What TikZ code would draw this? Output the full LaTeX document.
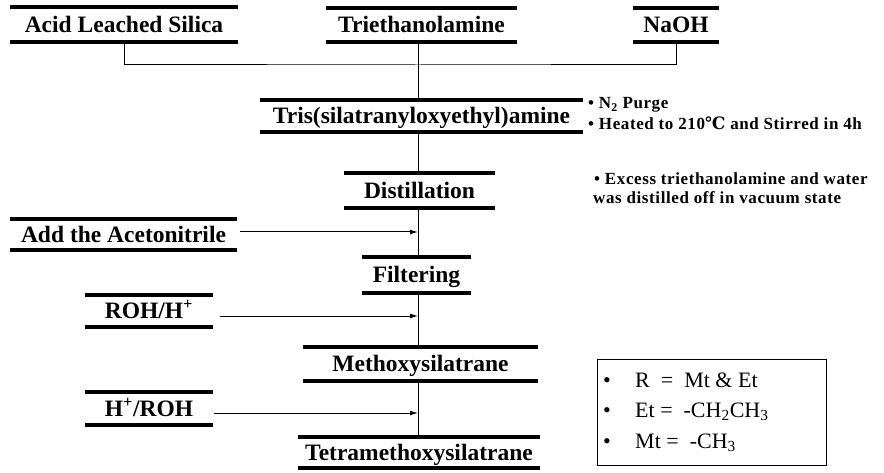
\documentclass[tikz,border=0pt]{standalone}
\usepackage{fontspec}
\setmainfont{Liberation Serif}
\newfontfamily\degfont{DejaVu Serif}
\usetikzlibrary{arrows.meta,positioning}
\tikzset{>={Latex[length=8pt,width=5pt]}}
\newcommand{\keybullet}{\makebox[32pt][l]{\textbullet}}

\begin{document}
\begin{tikzpicture}[x=1pt,y=-1pt]
    \tikzstyle{stage}=[inner sep=0pt,text height=19.5pt,text depth=4pt,font=\fontsize{23.5}{26}\selectfont\bfseries]
    \tikzstyle{bar}=[line width=3.5pt]
    \tikzstyle{link}=[line width=1pt]
    \tikzstyle{note}=[anchor=west,inner sep=0pt,font=\fontsize{17}{19}\selectfont\bfseries\addfontfeature{LetterSpace=3.5}]
    \tikzstyle{key}=[anchor=west,inner sep=0pt,font=\fontsize{22}{24}\selectfont]
    \useasboundingbox (0,0) rectangle (884,473);
    % raw materials
    \node[stage,minimum width=228,minimum height=35] (acid)    at (124,24.5)   {Acid Leached Silica};
    \node[stage,minimum width=191,minimum height=34] (trieth)  at (421.5,25)   {Triethanolamine};
    \node[stage,minimum width=86,minimum height=34]  (naoh)    at (676,25)     {NaOH};
    % main line
    \node[stage,minimum width=323,minimum height=32] (tris)    at (421.5,116)  {Tris(silatranyloxyethyl)amine};
    \node[stage,minimum width=151,minimum height=35] (distill) at (419.5,190.5) {Distillation};
    \node[stage,minimum width=109,minimum height=36] (filter)  at (416.5,275)  {Filtering};
    \node[stage,minimum width=235,minimum height=34] (methoxy) at (420.5,364)  {Methoxysilatrane};
    \node[stage,minimum width=242,minimum height=31] (tetra)   at (419,452.5)  {Tetramethoxysilatrane};
    % side feeds
    \node[stage,minimum width=227,minimum height=31] (addacn)  at (123.5,234.5) {Add the Acetonitrile};
    \node[stage,minimum width=128,minimum height=32] (rohh)    at (149,311)    {ROH/H\textsuperscript{+}};
    \node[stage,minimum width=128,minimum height=33] (hroh)    at (149,408.5)  {H\textsuperscript{+}/ROH};
    \foreach \n in {acid,trieth,naoh,tris,distill,filter,methoxy,tetra,addacn,rohh,hroh}
        \draw[bar] (\n.north west) -- (\n.north east) (\n.south west) -- (\n.south east);

    \coordinate (spine) at (418,0);
    \coordinate (join)  at (418,65);
    \draw[link] (acid.south) |- (join) -| (naoh.south);
    \draw[link] (trieth.south -| spine) -- (tris.north -| spine);
    \draw[link] (tris.south -| spine) -- (distill.north -| spine);
    \draw[link] (distill.south -| spine) -- (filter.north -| spine);
    \draw[link] (filter.south -| spine) -- (methoxy.north -| spine);
    \draw[link] (methoxy.south -| spine) -- (tetra.north -| spine);
    \draw[link,->] ([xshift=3pt,yshift=2.5pt]addacn.east) -- ([yshift=2.5pt]addacn.east -| spine);
    \draw[link,->] ([xshift=7pt,yshift=-5pt]rohh.east) -- ([yshift=-5pt]rohh.east -| spine);
    \draw[link,->] ([xshift=1pt,yshift=-4.5pt]hroh.east) -- ([yshift=-4.5pt]hroh.east -| spine);

    % conditions
    \node[note] (purge)  at (588,105) {\textbullet\ N\textsubscript{2} Purge};
    \node[note] (heat)   at (588,123) {\textbullet\ Heated to 210{\degfont ℃} and Stirred in 4h};
    \node[note] (excess) at (594,179) {\textbullet\ Excess triethanolamine and water};
    \node[note] (vacuum) at (593,198) {was distilled off in vacuum state};

    % legend
    \node[draw,line width=0.8pt,inner sep=0pt,minimum width=229,minimum height=106] (legend) at (711.5,412) {};
    \node[key] (keyr)  at (603,380) {\keybullet R\ \ =\ \ Mt \& Et};
    \node[key] (keyet) at (603,412) {\keybullet Et =\ \ -CH\textsubscript{2}CH\textsubscript{3}};
    \node[key] (keymt) at (603,443) {\keybullet Mt =\ \ -CH\textsubscript{3}};
\end{tikzpicture}
\end{document}
